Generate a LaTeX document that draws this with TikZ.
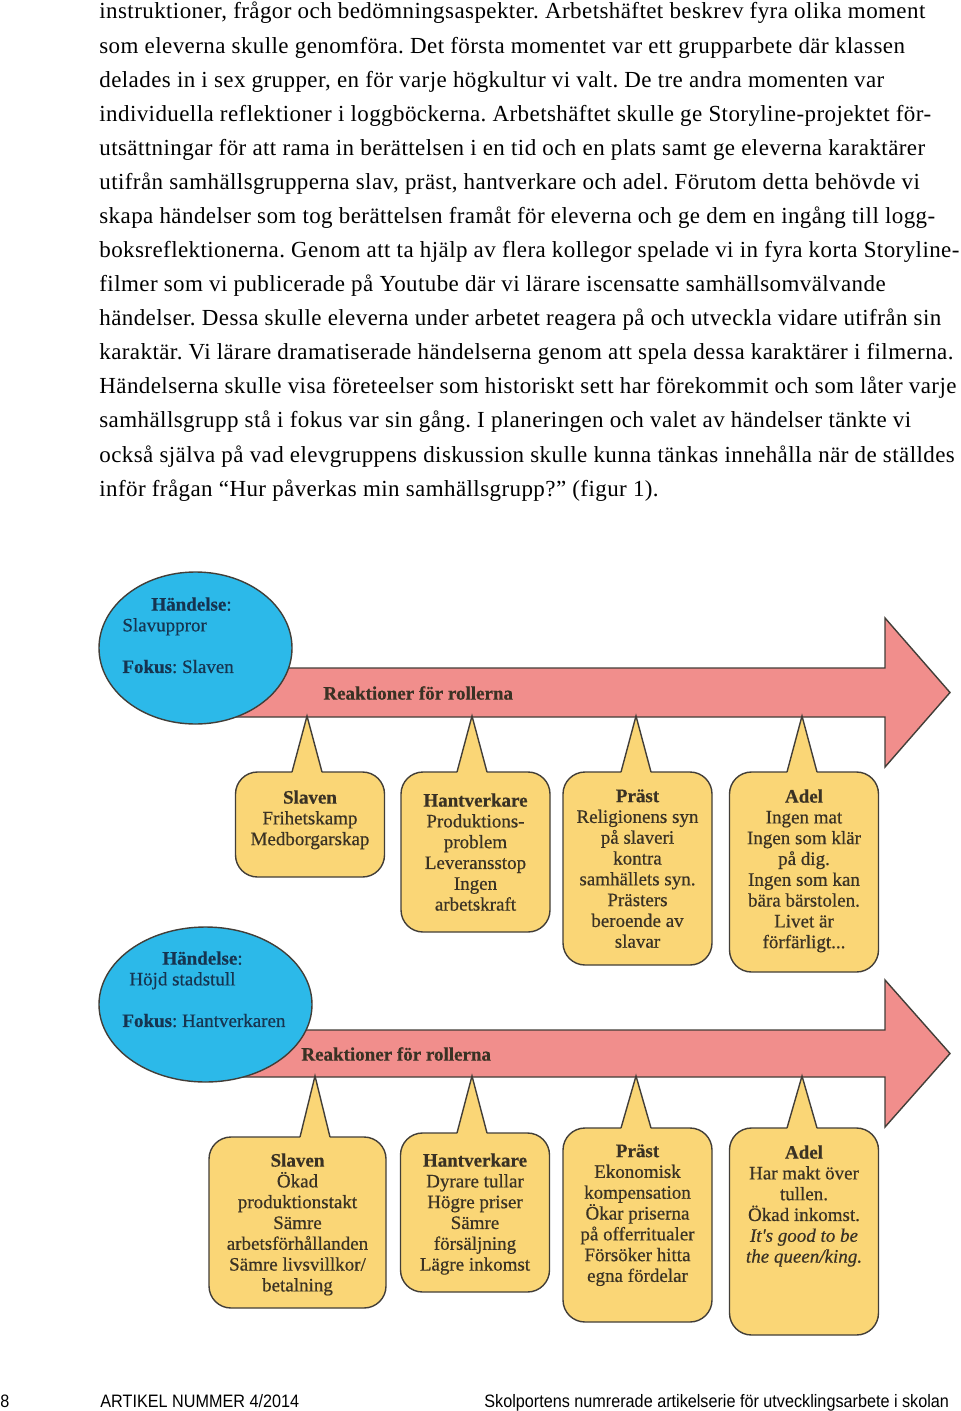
\documentclass[tikz,border=0pt]{standalone}
\usepackage{fontspec}
\setmainfont{Liberation Serif}
\newfontfamily\bodyfont[LetterSpace=1.8]{Liberation Serif}
\newfontfamily\figfont[FakeBold=0.5]{Liberation Serif}
\newfontfamily\footfont[FakeStretch=0.9]{Liberation Sans}
\usetikzlibrary{calc,shapes.geometric}

\definecolor{eventblue}{RGB}{44,185,233}
\definecolor{arrowpink}{RGB}{241,142,140}
\definecolor{rolefill}{RGB}{250,214,118}
\definecolor{edgegray}{RGB}{66,62,56}
\definecolor{roletext}{RGB}{58,50,36}
\definecolor{eventtext}{RGB}{22,52,80}

\tikzset{
  event/.style={ellipse, draw=edgegray, fill=eventblue, line width=0.7pt, inner sep=0pt},
  eventlbl/.style={align=left, font=\figfont\fontsize{9.5}{10.4}\selectfont, text=eventtext, inner sep=0pt, anchor=north west},
  arrowlbl/.style={anchor=west, inner sep=0pt, font=\figfont\bfseries\fontsize{9.5}{10.4}\selectfont, text=roletext},
  timeline/.style={draw=edgegray, fill=arrowpink, line width=0.7pt, line join=miter},
  rolebox/.style={draw=edgegray, fill=rolefill, line width=0.7pt, rounded corners=11pt, inner sep=0pt, outer sep=0pt, anchor=north, minimum width=74.5pt},
  rolelbl/.style={align=center, font=\figfont\fontsize{9.5}{10.4}\selectfont, text=roletext, inner sep=0pt, anchor=north},
  bodyline/.style={anchor=base west, inner sep=0pt, font=\bodyfont\fontsize{11.5}{13}\selectfont},
  footline/.style={anchor=base west, inner sep=0pt, font=\footfont\fontsize{9}{10}\selectfont},
}

\begin{document}
\frenchspacing
\begin{tikzpicture}[x=0.5pt,y=-0.5pt]
\useasboundingbox (0,0) rectangle (960,1411);

% running text above the figure
\foreach \txt [count=\i] in {
  {instruktioner, frågor och bedömningsaspekter. Arbetshäftet beskrev fyra olika moment},
  {som eleverna skulle genomföra. Det första momentet var ett grupparbete där klassen},
  {delades in i sex grupper, en för varje högkultur vi valt. De tre andra momenten var},
  {individuella reflektioner i loggböckerna. Arbetshäftet skulle ge Storyline-projektet för-},
  {utsättningar för att rama in berättelsen i en tid och en plats samt ge eleverna karaktärer},
  {utifrån samhällsgrupperna slav, präst, hantverkare och adel. Förutom detta behövde vi},
  {skapa händelser som tog berättelsen framåt för eleverna och ge dem en ingång till logg-},
  {boksreflektionerna. Genom att ta hjälp av flera kollegor spelade vi in fyra korta Storyline-},
  {filmer som vi publicerade på Youtube där vi lärare iscensatte samhällsomvälvande},
  {händelser. Dessa skulle eleverna under arbetet reagera på och utveckla vidare utifrån sin},
  {karaktär. Vi lärare dramatiserade händelserna genom att spela dessa karaktärer i filmerna.},
  {Händelserna skulle visa företeelser som historiskt sett har förekommit och som låter varje},
  {samhällsgrupp stå i fokus var sin gång. I planeringen och valet av händelser tänkte vi},
  {också själva på vad elevgruppens diskussion skulle kunna tänkas innehålla när de ställdes},
  {inför frågan “Hur påverkas min samhällsgrupp?” (figur 1).}}
  \node[bodyline] (line\i) at (99,{19+34.08*(\i-1)}) {\txt};

% first event: arrow, then circle on top
\draw[timeline] (225,668) -- (885,668) -- (885,618) -- (950,692.5) -- (885,767) -- (885,717) -- (225,717) -- cycle;
\node[event, minimum width=96.5pt, minimum height=76pt] (event1) at (195.5,648) {};
\node[eventlbl] (event1txt) at (122,597) {\hspace*{14.5pt}\textbf{Händelse}:\\Slavuppror\\[10.4pt]\textbf{Fokus}: Slaven};
\node[arrowlbl] (react1) at (323,693) {Reaktioner för rollerna};

% second event
\draw[timeline] (235,1030) -- (885,1030) -- (885,980) -- (950,1053.5) -- (885,1127) -- (885,1077) -- (235,1077) -- cycle;
\node[event, minimum width=106.5pt, minimum height=77.5pt] (event2) at (205.5,1004.5) {};
\node[eventlbl] (event2txt) at (122,951) {\hspace*{20pt}\textbf{Händelse}:\\\hspace*{3.5pt}Höjd stadstull\\[10.4pt]\textbf{Fokus}: Hantverkaren};
\node[arrowlbl] (react2) at (301,1054) {Reaktioner för rollerna};

% where the speech bubbles point at
\coordinate (tipslave1) at (307,716);
\coordinate (tipcraft1) at (472,716);
\coordinate (tippriest1) at (636,716);
\coordinate (tipnoble1) at (802,716);
\coordinate (tipslave2) at (315,1076);
\coordinate (tipcraft2) at (472,1076);
\coordinate (tippriest2) at (636,1076);
\coordinate (tipnoble2) at (802,1076);

% bubbles, row 1
\node[rolebox, minimum height=52.5pt] (slave1) at (310,772) {};
\node[rolebox, minimum height=80pt] (craft1) at (475.5,772) {};
\node[rolebox, minimum height=96.5pt] (priest1) at (637.5,772) {};
\node[rolebox, minimum height=100pt] (noble1) at (804,772) {};

% bubbles, row 2
\node[rolebox, minimum height=85.5pt, minimum width=88.5pt] (slave2) at (297.5,1137) {};
\node[rolebox, minimum height=79.5pt] (craft2) at (475,1133) {};
\node[rolebox, minimum height=97pt] (priest2) at (637.5,1128) {};
\node[rolebox, minimum height=103.5pt] (noble2) at (804,1128) {};

% pointers up to the arrows
\foreach \b in {slave1,craft1,priest1,noble1,slave2,craft2,priest2,noble2} {
  \fill[rolefill] ($(\b.north -| tip\b)+(-15,1.5)$) -- (tip\b) -- ($(\b.north -| tip\b)+(15,1.5)$) -- cycle;
  \draw[draw=edgegray, line width=0.7pt, line join=miter] ($(\b.north -| tip\b)+(-15,0)$) -- (tip\b) -- ($(\b.north -| tip\b)+(15,0)$);
}

% texts in the bubbles
\node[rolelbl] (slave1txt) at (310,790) {\textbf{Slaven}\\Frihetskamp\\Medborgarskap};
\node[rolelbl] (craft1txt) at (475.5,793) {\textbf{Hantverkare}\\Produktions-\\problem\\Leveransstop\\Ingen\\arbetskraft};
\node[rolelbl] (priest1txt) at (637.5,789) {\textbf{Präst}\\Religionens syn\\på slaveri\\kontra\\samhällets syn.\\Prästers\\beroende av\\slavar};
\node[rolelbl] (noble1txt) at (804,789) {\textbf{Adel}\\Ingen mat\\Ingen som klär\\på dig.\\Ingen som kan\\bära bärstolen.\\Livet är\\förfärligt...};

\node[rolelbl] (slave2txt) at (297.5,1153) {\textbf{Slaven}\\Ökad\\produktionstakt\\Sämre\\arbetsförhållanden\\Sämre livsvillkor/\\betalning};
\node[rolelbl] (craft2txt) at (475,1153) {\textbf{Hantverkare}\\Dyrare tullar\\Högre priser\\Sämre\\försäljning\\Lägre inkomst};
\node[rolelbl] (priest2txt) at (637.5,1144) {\textbf{Präst}\\Ekonomisk\\kompensation\\Ökar priserna\\på offerritualer\\Försöker hitta\\egna fördelar};
\node[rolelbl] (noble2txt) at (804,1145) {\textbf{Adel}\\Har makt över\\tullen.\\Ökad inkomst.\\\textit{It's good to be}\\\textit{the queen/king.}};

% page footer
\node[footline] (pageno) at (0,1407) {8};
\node[footline] (issue) at (100,1407) {ARTIKEL NUMMER 4/2014};
\node[footline] (series) at (484,1407) {Skolportens numrerade artikelserie för utvecklingsarbete i skolan};
\end{tikzpicture}
\end{document}
